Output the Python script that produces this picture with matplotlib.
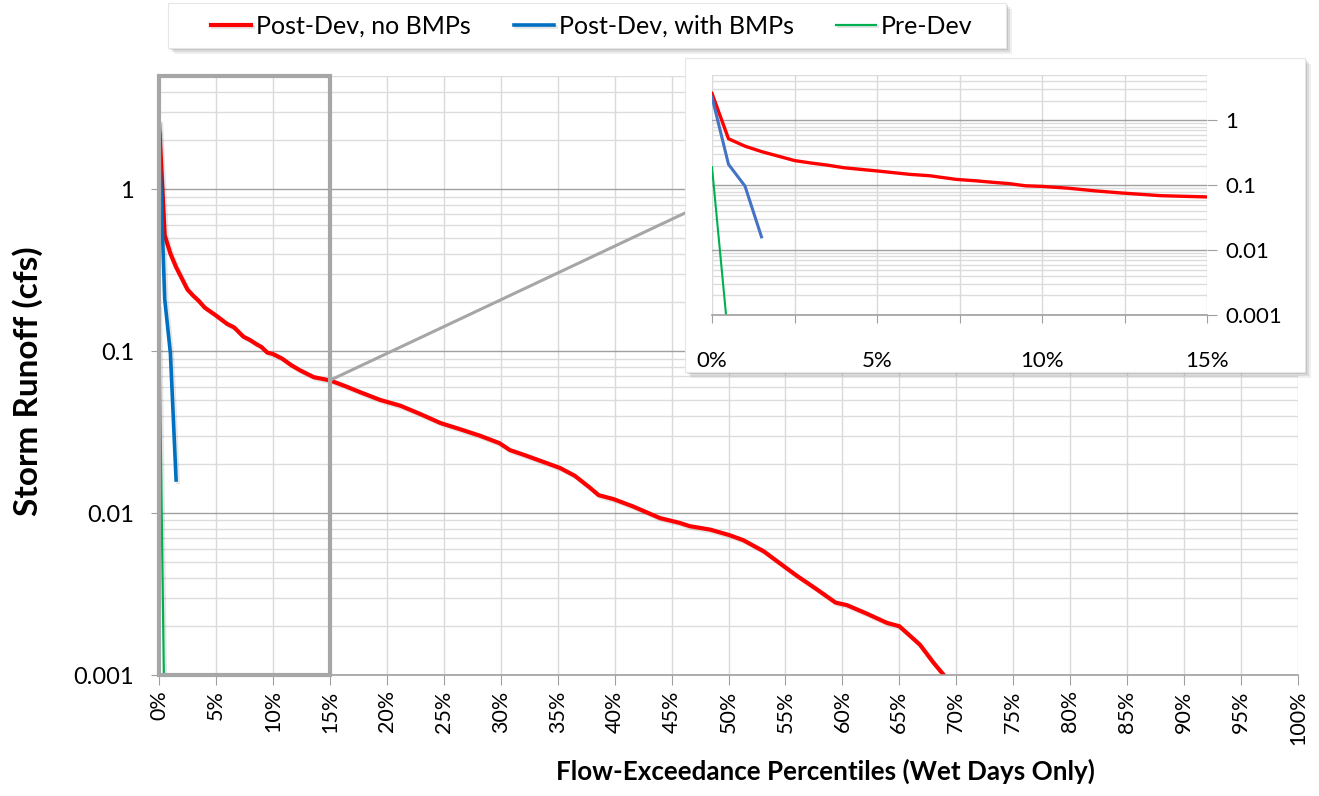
import matplotlib
matplotlib.use('Agg')
import matplotlib.pyplot as plt
import matplotlib.patheffects as pe
from matplotlib.patches import Rectangle, ConnectionPatch
from matplotlib.ticker import LogLocator, NullFormatter, FixedLocator
import numpy as np

plt.rcParams['font.family'] = ['Lato', 'DejaVu Sans']

# flow-exceedance percentile (%) and storm runoff (cfs)
post_no_x = [0.0, 0.5, 1.0, 1.5, 2.5, 3.0, 3.5, 4.0, 5.0, 6.0, 6.6, 7.4, 8.0, 8.5, 9.0,
             9.5, 10.0, 10.8, 11.6, 12.4, 13.6, 15.0, 16.3, 17.6, 19.4, 21.2, 22.9,
             24.7, 26.4, 28.2, 29.9, 30.8, 32.1, 33.5, 35.2, 36.5, 37.8, 38.6, 39.9,
             41.6, 44.0, 45.7, 46.6, 48.4, 50.1, 51.3, 53.1, 54.5, 56.0, 57.7, 59.4,
             60.4, 62.1, 63.9, 65.0, 66.8, 68.0, 68.9, 69.5]
post_no_y = [2.6, 0.52, 0.40, 0.33, 0.24, 0.22, 0.204, 0.186, 0.166, 0.147, 0.14, 0.123,
             0.117, 0.111, 0.106, 0.098, 0.096, 0.09, 0.082, 0.076, 0.069, 0.066, 0.061,
             0.056, 0.050, 0.046, 0.041, 0.036, 0.033, 0.030, 0.027, 0.0245, 0.0228,
             0.021, 0.019, 0.017, 0.0144, 0.0129, 0.0122, 0.011, 0.0093, 0.0087, 0.0083,
             0.0079, 0.0073, 0.0068, 0.0058, 0.0049, 0.0041, 0.0034, 0.0028, 0.0027,
             0.0024, 0.0021, 0.0020, 0.00154, 0.00119, 0.001, 0.0008]
post_bmp_x = [0.0, 0.5, 1.0, 1.5]
post_bmp_y = [2.28, 0.21, 0.097, 0.016]
pre_x = [0.0, 0.5]
pre_y = [0.19, 0.0004]

y_ticks = [0.001, 0.01, 0.1, 1]
y_labels = ['0.001', '0.01', '0.1', '1']
x_ticks = list(range(0, 101, 5))
x_labels = ['%d%%' % v for v in x_ticks]
inset_xlim = (0, 15)
ylim = (0.001, 5)

RED = '#FF0000'
BLUE = '#0070C0'
BLUE2 = '#4472C4'
GREEN = '#00B050'
GRAY = '#A6A6A6'


def shadow():
    return [pe.SimpleLineShadow(offset=(1.5, -1.5), shadow_color='k', alpha=0.1), pe.Normal()]


def style_log_axis(ax):
    ax.set_yscale('log')
    ax.set_ylim(*ylim)
    ax.yaxis.set_major_locator(FixedLocator(y_ticks))
    ax.set_yticklabels(y_labels)
    ax.yaxis.set_minor_locator(LogLocator(base=10, subs=range(2, 10), numticks=20))
    ax.yaxis.set_minor_formatter(NullFormatter())
    ax.tick_params(axis='y', which='minor', length=0)
    ax.grid(True, which='major', axis='y', color='#A0A0A0', lw=1)
    ax.grid(True, which='minor', axis='y', color='#DCDCDC', lw=1)
    ax.grid(True, which='major', axis='x', color='#D9D9D9', lw=1)
    ax.set_axisbelow(True)
    for s in ['top', 'right', 'left']:
        ax.spines[s].set_visible(False)
    ax.spines['bottom'].set_color('#A0A0A0')
    ax.spines['bottom'].set_linewidth(1.2)


def shadow_box(x0, y0, x1, y1, z):
    # white box in pixel coords (top-left origin) with soft drop shadow
    for k, a in [(6, 0.12), (4, 0.18), (2, 0.25)]:
        fig.add_artist(Rectangle(((x0 + k) / W, 1 - (y1 + k) / H), (x1 - x0) / W, (y1 - y0) / H,
                                 transform=fig.transFigure, facecolor='#808080', edgecolor='none',
                                 alpha=a, zorder=z))
    fig.add_artist(Rectangle((x0 / W, 1 - y1 / H), (x1 - x0) / W, (y1 - y0) / H,
                             transform=fig.transFigure, facecolor='white', edgecolor='#E6E6E6',
                             lw=0.8, zorder=z + 0.05))


W, H = 1319, 796
fig = plt.figure(figsize=(W / 100, H / 100), dpi=100)

# main chart
ax = fig.add_axes([159 / W, 1 - 675 / H, (1298 - 159) / W, (675 - 76) / H])
style_log_axis(ax)
ax.set_xlim(0, 100)
ax.set_xticks(x_ticks)
ax.set_xticklabels(x_labels, rotation=90, fontsize=15.5)
ax.tick_params(axis='x', which='major', length=7, color='#A0A0A0', pad=4)
ax.tick_params(axis='y', which='major', length=6, color='#A0A0A0', pad=12, labelsize=17)

l1, = ax.plot(post_no_x, post_no_y, color=RED, lw=3, label='Post-Dev, no BMPs', path_effects=shadow())
l2, = ax.plot(post_bmp_x, post_bmp_y, color=BLUE, lw=2.6, label='Post-Dev, with BMPs', path_effects=shadow())
l3, = ax.plot(pre_x, pre_y, color=GREEN, lw=1.6, label='Pre-Dev', path_effects=shadow())

# zoom box
ax.add_patch(Rectangle((inset_xlim[0], ylim[0]), inset_xlim[1] - inset_xlim[0], ylim[1] - ylim[0],
                       fill=False, edgecolor=GRAY, lw=3, clip_on=False, zorder=3))

fig.text(28 / W, 1 - 381 / H, 'Storm Runoff (cfs)', rotation=90, ha='center', va='center',
         fontsize=24, fontweight='bold')
fig.text(825 / W, 1 - 771 / H, 'Flow-Exceedance Percentiles (Wet Days Only)', ha='center',
         va='center', fontsize=18.7, fontweight='bold')

# inset frame
shadow_box(685, 58, 1305, 372, 1)

# connector line from zoom box to inset
y15 = 10 ** np.interp(inset_xlim[1], post_no_x, np.log10(post_no_y))
con = ConnectionPatch(xyA=(inset_xlim[1], y15), coordsA=ax.transData,
                      xyB=(685 / W, 1 - 213 / H), coordsB=fig.transFigure,
                      color=GRAY, lw=2.2, zorder=0.9)
fig.add_artist(con)

# inset chart
axi = fig.add_axes([712 / W, 1 - 315 / H, (1207 - 712) / W, (315 - 75) / H], zorder=2)
style_log_axis(axi)
axi.set_xlim(*inset_xlim)
axi.set_xticks(np.arange(0, 15.1, 2.5))
axi.set_xticklabels(['0%', '', '5%', '', '10%', '', '15%'], fontsize=16)
axi.yaxis.tick_right()
axi.tick_params(axis='x', which='major', length=6, color='#A0A0A0', pad=20)
axi.tick_params(axis='y', which='major', length=7, color='#A0A0A0', pad=6, labelsize=16)
axi.plot(post_no_x, post_no_y, color=RED, lw=2.4)
axi.plot(post_bmp_x, post_bmp_y, color=BLUE2, lw=2.2)
axi.plot(pre_x, pre_y, color=GREEN, lw=1.5)

# legend box
shadow_box(168, 3, 1006, 48, 3)
leg = fig.legend(handles=[l1, l2, l3], loc='center', bbox_to_anchor=(592 / W, 1 - 26 / H), ncol=3,
                 fontsize=18, handlelength=1.6, handletextpad=0.2, columnspacing=1.7,
                 frameon=False)
leg.set_zorder(4)

plt.savefig('out.png', dpi=100)
